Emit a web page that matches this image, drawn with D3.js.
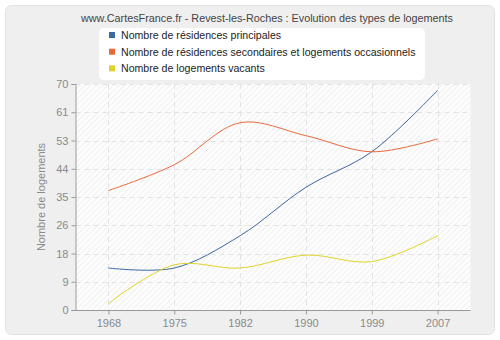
<!DOCTYPE html>
<html><head><meta charset="utf-8">
<script src="https://cdn.jsdelivr.net/npm/d3@7"></script>
<style>body{margin:0;background:#fff}svg{display:block;font-family:"Liberation Sans",Arial,sans-serif}</style>
</head><body><svg id="c" width="500" height="340"></svg>
<script>
const years = ["1968","1975","1982","1990","1999","2007"];
const principales = [13, 13, 23, 38, 49, 68];
const secondaires = [37, 45, 58, 54, 49, 53];
const vacants = [2, 14, 13, 17, 15, 23];
const yTicks = [0, 8.75, 17.5, 26.25, 35, 43.75, 52.5, 61.25, 70];
const seriesNames = ["Nombre de résidences principales","Nombre de résidences secondaires et logements occasionnels","Nombre de logements vacants"];
const colors = ["#3a68a0","#e8693a","#e0d42a"];
const title = "www.CartesFrance.fr - Revest-les-Roches : Evolution des types de logements";

const svg = d3.select("#c");
const defs = svg.append("defs");
const pat = defs.append("pattern").attr("id","hatch").attr("patternUnits","userSpaceOnUse")
  .attr("width",4).attr("height",4).attr("patternTransform","rotate(45)");
pat.append("rect").attr("width",4).attr("height",4).attr("fill","#fdfdfd");
pat.append("line").attr("x1",0).attr("y1",0).attr("x2",0).attr("y2",4).attr("stroke","#ececec").attr("stroke-width",1.5);

svg.append("rect").attr("x",5.5).attr("y",5.5).attr("width",489).attr("height",329).attr("rx",6)
  .attr("fill","#efefef").attr("stroke","#e2e2e2");

const L=75.5, R=470.5, T=84, B=310;
const x = d3.scalePoint().domain(years).range([L,R]).padding(0.5);
const y = d3.scaleLinear().domain([0,70]).range([B,T]);

svg.append("rect").attr("x",L).attr("y",T).attr("width",R-L).attr("height",B-T).attr("fill","url(#hatch)");

// grid
svg.append("g").selectAll("line").data(yTicks.slice(1)).join("line")
  .attr("x1",L).attr("x2",R).attr("y1",d=>Math.round(y(d))+0.5).attr("y2",d=>Math.round(y(d))+0.5)
  .attr("stroke","#e2e2e2").attr("stroke-dasharray","5,4");
svg.append("g").selectAll("line").data(years).join("line")
  .attr("x1",d=>Math.round(x(d))+0.5).attr("x2",d=>Math.round(x(d))+0.5).attr("y1",T).attr("y2",B)
  .attr("stroke","#e2e2e2").attr("stroke-dasharray","5,4");

// axes
const yAxis = d3.axisLeft(y).tickValues(yTicks).tickFormat(d=>Math.round(d)).tickSize(4).tickPadding(3);
const gy = svg.append("g").attr("transform",`translate(${L},0)`).call(yAxis);
const xAxis = d3.axisBottom(x).tickSize(4).tickPadding(5);
const gx = svg.append("g").attr("transform",`translate(0,${B+0.5})`).call(xAxis);
[gx,gy].forEach(g=>{
  g.select(".domain").attr("stroke","#999");
  g.selectAll(".tick line").attr("stroke","#999");
  g.selectAll("text").attr("fill","#8a8a8a").style("font-size","11px").style("font-family","Liberation Sans, Arial, sans-serif");
});
gx.select(".domain").attr("d",`M${L},0H${R}`);

svg.append("text").attr("transform",`translate(45,${(T+B)/2}) rotate(-90)`).attr("text-anchor","middle")
  .attr("fill","#8a8a8a").style("font-size","11px").text("Nombre de logements");

// lines
const line = d3.line().x((d,i)=>x(years[i])).y(d=>y(d)).curve(d3.curveCatmullRom.alpha(0.5));
[principales, secondaires, vacants].forEach((s,i)=>{
  svg.append("path").attr("d",line(s)).attr("fill","none").attr("stroke",colors[i]).attr("stroke-width",1);
});

// title
svg.append("text").attr("x",267).attr("y",22).attr("text-anchor","middle").attr("fill","#444")
  .style("font-size","10.8px").text(title);

// legend
svg.append("rect").attr("x",99).attr("y",28).attr("width",326).attr("height",52).attr("rx",5).attr("fill","#fff");
const lg = svg.append("g").selectAll("g").data(seriesNames).join("g")
  .attr("transform",(d,i)=>`translate(109,${35+i*16.7})`);
lg.append("rect").attr("x",0).attr("y",-3).attr("width",6).attr("height",6).attr("fill",(d,i)=>colors[i]);
lg.append("text").attr("x",12).attr("y",4).attr("fill","#222").style("font-size","10.6px").text(d=>d);
</script></body></html>
